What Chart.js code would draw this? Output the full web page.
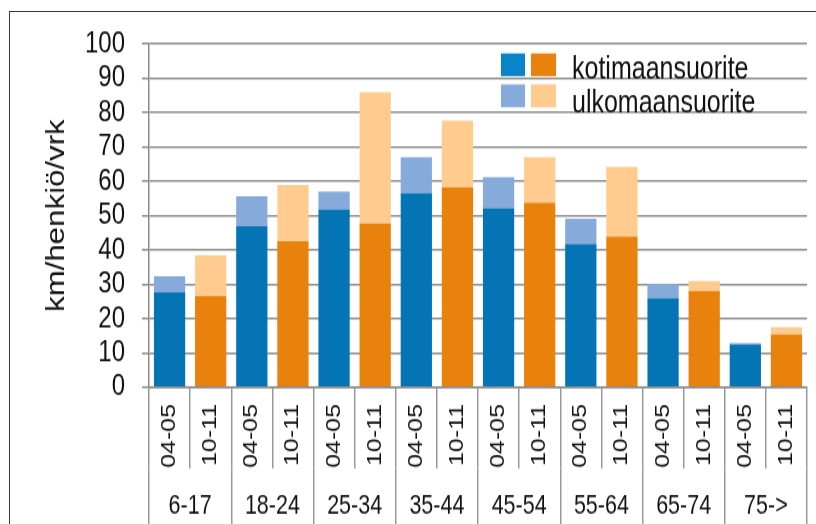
<!DOCTYPE html>
<html>
<head>
<meta charset="utf-8">
<script src="https://cdn.jsdelivr.net/npm/chart.js@4/dist/chart.umd.min.js"></script>
<style>
  html, body { margin: 0; padding: 0; background: #fff; overflow: hidden; width: 816px; height: 524px; }
  #frame { position: absolute; left: 9px; top: 11px; width: 1000px; height: 1000px; border: 1.6px solid #3a3a3a; box-sizing: border-box; }
  #wrap { position: absolute; left: 0; top: 0; width: 816px; height: 419.2px; transform: scaleY(1.25); transform-origin: 0 0; }
</style>
</head>
<body>
<div id="frame"></div>
<div id="wrap"><canvas id="c"></canvas></div>
<script>
// ---- data ----
const ageGroups = ['6-17', '18-24', '25-34', '35-44', '45-54', '55-64', '65-74', '75->'];
const periods = ['04-05', '10-11'];
const domestic0405 = [27.7, 46.9, 51.8, 56.6, 52.2, 41.7, 26.0, 12.5];
const foreign0405  = [4.6, 8.7, 5.2, 10.4, 9.0, 7.4, 4.1, 0.4];
const domestic1011 = [26.6, 42.5, 47.7, 58.2, 53.7, 43.9, 28.1, 15.4];
const foreign1011  = [11.8, 16.4, 38.3, 19.5, 13.3, 20.3, 2.9, 2.1];
const yTicks = [0, 10, 20, 30, 40, 50, 60, 70, 80, 90, 100];
const seriesNames = ['kotimaansuorite', 'ulkomaansuorite'];
const axisTitle = 'km/henkiö/vrk';

// ---- styling ----
const BLUE = '#0474B4', LBLUE = '#86ABDB', ORANGE = '#E8820C', LORANGE = '#FFCB8E';
const GRID = '#8e8e8e';
const FONT = "'Liberation Sans', Arial, sans-serif";
Chart.defaults.font.family = FONT;
Chart.defaults.color = '#111';

// interleave into 16 bars
const barLabels = [], domData = [], forData = [], domColors = [], forColors = [];
ageGroups.forEach((g, i) => {
  barLabels.push(periods[0]); domData.push(domestic0405[i]); forData.push(foreign0405[i]);
  domColors.push(BLUE); forColors.push(LBLUE);
  barLabels.push(periods[1]); domData.push(domestic1011[i]); forData.push(foreign1011[i]);
  domColors.push(ORANGE); forColors.push(LORANGE);
});

const legendPlugin = {
  id: 'customLegend',
  afterDraw(chart) {
    const ctx = chart.ctx;
    ctx.save();
    const rows = [
      { y: 42.7, h: 18.2, c1: '#0A84C8', c2: ORANGE, text: seriesNames[0], base: 63.3 },
      { y: 67.5, h: 18.3, c1: LBLUE, c2: LORANGE, text: seriesNames[1], base: 90.4 }
    ];
    rows.forEach(r => {
      ctx.fillStyle = r.c1; ctx.fillRect(501, r.y, 24, r.h);
      ctx.fillStyle = r.c2; ctx.fillRect(531, r.y, 25, r.h);
      ctx.fillStyle = '#111';
      ctx.font = '25px ' + FONT;
      ctx.textBaseline = 'alphabetic';
      ctx.textAlign = 'left';
      ctx.fillText(r.text, 572, r.base);
    });
    ctx.restore();
  }
};

new Chart(document.getElementById('c'), {
  type: 'bar',
  data: {
    labels: barLabels,
    datasets: [
      { label: seriesNames[0], data: domData, backgroundColor: domColors, barPercentage: 0.76, categoryPercentage: 1.0, xAxisID: 'x' },
      { label: seriesNames[1], data: forData, backgroundColor: forColors, barPercentage: 0.76, categoryPercentage: 1.0, xAxisID: 'x' }
    ]
  },
  options: {
    responsive: true,
    maintainAspectRatio: false,
    animation: false,
    devicePixelRatio: 1,
    layout: { padding: { left: 42, top: 35.2, right: 9, bottom: 0 } },
    plugins: { legend: { display: false }, tooltip: { enabled: false } },
    scales: {
      y: {
        stacked: true, min: 0, max: 100,
        afterBuildTicks(s) { s.ticks = yTicks.map(v => ({ value: v })); },
        ticks: { autoSkip: false, font: { size: 24 }, color: '#111', padding: 17 },
        grid: { color: GRID, lineWidth: 1.5, tickLength: 7 },
        border: { display: true, color: '#8a8a8a', width: 1.5 },
        title: { display: true, text: axisTitle, font: { size: 25 }, color: '#111', padding: 0 },
        afterFit(s) { s.width = 107; }
      },
      x: {
        stacked: true, offset: true, weight: 0,
        grid: { display: true, offset: true, drawOnChartArea: false, drawTicks: true, tickLength: 65, color: '#999', lineWidth: 1.5 },
        border: { display: true, color: '#8a8a8a', width: 1.5 },
        ticks: { autoSkip: false, minRotation: 90, maxRotation: 90, padding: -51.6, font: { size: 20 }, color: '#111' },
        afterFit(s) { s.height = 65; }
      },
      x2: {
        type: 'category', labels: ageGroups, position: 'bottom', offset: true, weight: 1,
        grid: { display: true, offset: true, drawOnChartArea: false, drawTicks: true, tickLength: 50, color: '#999', lineWidth: 1.5 },
        border: { display: false },
        ticks: { autoSkip: false, maxRotation: 0, minRotation: 0, padding: -32.5, font: { size: 21.5 }, color: '#111' },
        afterFit(s) { s.height = 44.4; }
      }
    }
  },
  plugins: [legendPlugin]
});
</script>
</body>
</html>
